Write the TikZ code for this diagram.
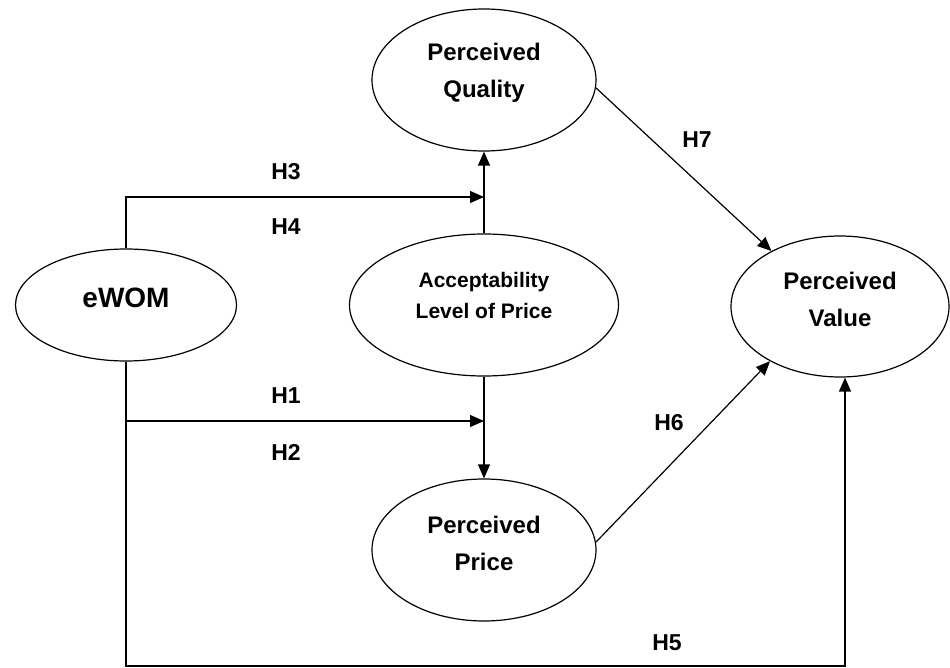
\documentclass[tikz,border=0pt]{standalone}
\usepackage{fontspec}
\setmainfont{Liberation Sans}
\usetikzlibrary{arrows.meta,shapes.geometric}

\begin{document}
\begin{tikzpicture}[x=1pt,y=-1pt,latent/.style={draw=black,ellipse,line width=1.2pt,inner sep=0pt,minimum width=224pt,minimum height=142pt},ctext/.style={font=\bfseries\fontsize{24}{37}\selectfont,align=center,yshift=7pt},arrow/.style={-{Triangle[length=14pt,width=12pt]},line width=1.2pt,draw=black},hyp/.style={font=\bfseries\fontsize{23}{23}\selectfont}]
\useasboundingbox (0,0) rectangle (950,668);
\node[latent,minimum width=221pt,minimum height=112pt,label={[ctext,font=\bfseries\fontsize{28}{30}\selectfont]center:eWOM}] (ewom) at (126,305) {};
\node[latent,label={[ctext]center:Perceived\\Quality}] (quality) at (484,80) {};
\node[latent,minimum width=269pt,label={[ctext,font=\bfseries\fontsize{21}{31}\selectfont,yshift=3pt]center:Acceptability\\Level of Price}] (accept) at (484,305) {};
\node[latent,label={[ctext]center:Perceived\\Price}] (price) at (484,550) {};
\node[latent,minimum width=218pt,minimum height=141pt,label={[ctext]center:Perceived\\Value}] (value) at (840,306.5) {};
\coordinate (mq) at (484,197); \coordinate (mp) at (484,421); \coordinate (h5end) at (845,666);
\draw[arrow] (accept)--(quality); \draw[arrow] (accept)--(price);
\draw[arrow] (ewom.north) |- (mq); \draw[arrow] (ewom.south) |- (mp);
\draw[arrow,line width=1.6pt] (ewom.south) -- (ewom.south |- h5end) -- (h5end) -- (value.south -| h5end);
\draw[arrow] (quality.-4)--(value.141); \draw[arrow] (price.4)--(value.218);
\node[hyp] (h3) at (286,172) {H3}; \node[hyp] (h4) at (286,227) {H4};
\node[hyp] (h1) at (286,396) {H1}; \node[hyp] (h2) at (286,452) {H2};
\node[hyp] (h7) at (697,140) {H7}; \node[hyp] (h6) at (669,423) {H6}; \node[hyp] (h5) at (667,643) {H5};
\end{tikzpicture}
\end{document}
